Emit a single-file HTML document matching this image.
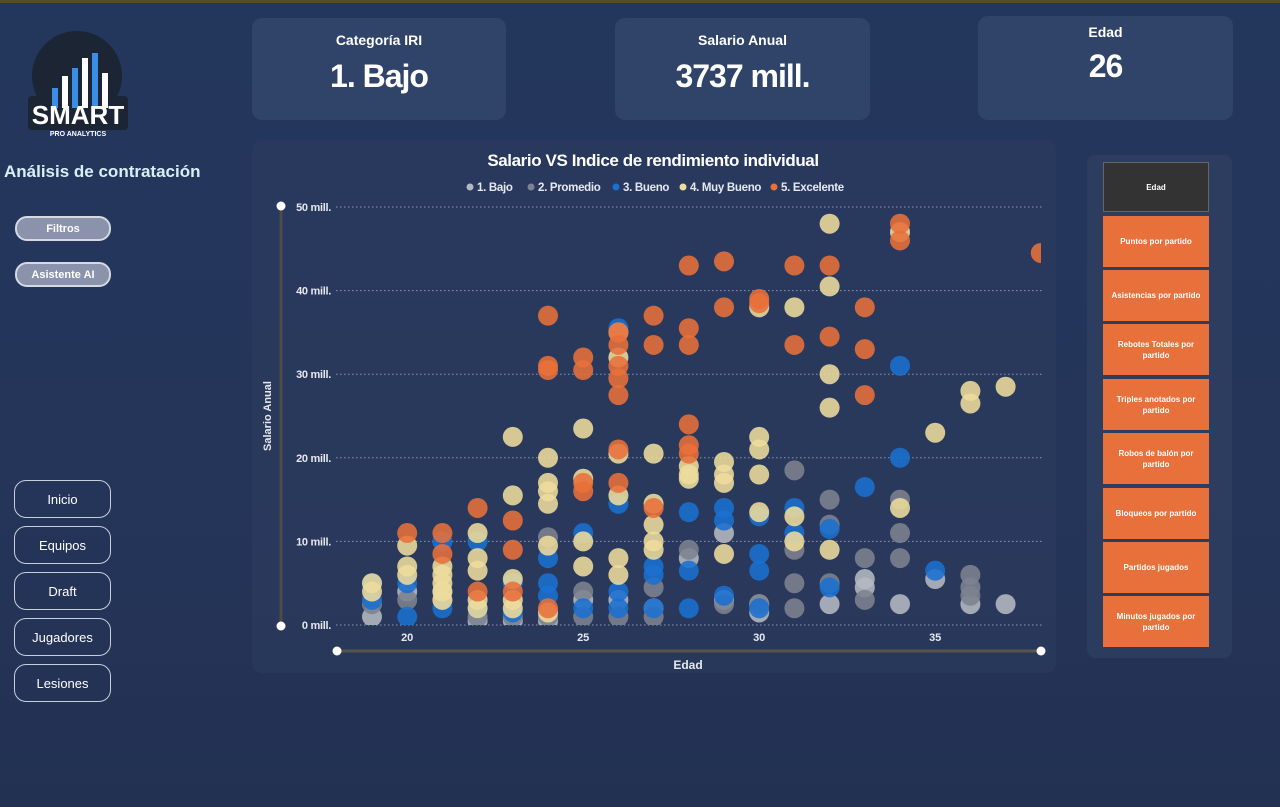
<!DOCTYPE html>
<html><head><meta charset="utf-8">
<style>
*{box-sizing:border-box;margin:0;padding:0}
body{width:1280px;height:807px;overflow:hidden;background:linear-gradient(180deg,#23365c 0%,#25355a 60%,#223152 100%);font-family:"Liberation Sans",sans-serif;color:#fff;position:relative}
.abs{position:absolute}
.card{position:absolute;background:rgba(60,78,115,0.55);border-radius:10px;text-align:center}
.card .t{font-size:14px;font-weight:bold;margin-top:14px}
.card .v{font-size:32px;font-weight:bold;margin-top:10px;letter-spacing:-1px}
.nav{position:absolute;left:14px;width:97px;height:38px;border:1px solid #c8cfdc;border-radius:12px;font-size:13px;display:flex;align-items:center;justify-content:center}
.pill{position:absolute;left:15px;width:96px;height:25px;background:#8a93ab;border:2px solid #d5d9e2;border-radius:12px;font-size:11px;font-weight:bold;display:flex;align-items:center;justify-content:center}
.rb{position:absolute;left:1103px;width:106px;height:51px;background:#e8703a;font-size:8px;font-weight:bold;display:flex;align-items:center;justify-content:center;text-align:center;padding:0 6px;line-height:11px}
</style></head><body>
<div class="abs" style="left:0;top:0;width:1280px;height:3px;background:#5a4a2a"></div>
<svg class="abs" style="left:24px;top:28px" width="108" height="110">
<circle cx="53" cy="48" r="45" fill="#1b2533"/>
<rect x="4" y="68" width="100" height="34" rx="4" fill="#1b2533"/>
<rect x="28" y="60" width="6" height="20" fill="#3a8ee8"/><rect x="38" y="48" width="6" height="32" fill="#fff"/><rect x="48" y="40" width="6" height="40" fill="#3a8ee8"/><rect x="58" y="30" width="6" height="50" fill="#fff"/><rect x="68" y="25" width="6" height="55" fill="#3a8ee8"/><rect x="78" y="45" width="6" height="35" fill="#fff"/>
<text x="54" y="96" font-size="26" font-weight="bold" fill="#fff" text-anchor="middle" font-family="Liberation Sans">SMART</text>
<text x="54" y="108" font-size="7" font-weight="bold" fill="#fff" text-anchor="middle">PRO ANALYTICS</text>
</svg>
<div class="abs" style="left:4px;top:162px;font-size:17px;font-weight:bold;color:#d8f0f4">Análisis de contratación</div>
<div class="pill" style="top:216px">Filtros</div>
<div class="pill" style="top:262px">Asistente AI</div>
<div class="nav" style="top:480px">Inicio</div>
<div class="nav" style="top:526px">Equipos</div>
<div class="nav" style="top:572px">Draft</div>
<div class="nav" style="top:618px">Jugadores</div>
<div class="nav" style="top:664px">Lesiones</div>

<div class="card" style="left:252px;top:18px;width:254px;height:102px"><div class="t">Categoría IRI</div><div class="v">1. Bajo</div></div>
<div class="card" style="left:615px;top:18px;width:255px;height:102px"><div class="t">Salario Anual</div><div class="v">3737 mill.</div></div>
<div class="card" style="left:978px;top:16px;width:255px;height:104px"><div class="t" style="margin-top:8px">Edad</div><div class="v" style="margin-top:8px">26</div></div>

<div class="abs" style="left:252px;top:140px;width:804px;height:533px;background:rgba(45,60,95,0.55);border-radius:10px"></div>
<svg class="abs" id="chart" style="left:0;top:0" width="1280" height="807"></svg>

<div class="abs" style="left:1087px;top:155px;width:145px;height:503px;background:rgba(50,66,100,0.6);border-radius:8px"></div>
<div class="rb" style="top:162px;height:50px;background:#333;border:1px solid #666">Edad</div>
<div class="rb" style="top:216px">Puntos por partido</div>
<div class="rb" style="top:270px">Asistencias por partido</div>
<div class="rb" style="top:324px">Rebotes Totales por partido</div>
<div class="rb" style="top:379px">Triples anotados por partido</div>
<div class="rb" style="top:433px">Robos de balón por partido</div>
<div class="rb" style="top:488px">Bloqueos por partido</div>
<div class="rb" style="top:542px">Partidos jugados</div>
<div class="rb" style="top:596px">Minutos jugados por partido</div>

<script>
const categories=["1. Bajo","2. Promedio","3. Bueno","4. Muy Bueno","5. Excelente"];
const colors=["#b4b8c2","#7d8290","#1a6fd0","#eedc9c","#e8703a"];
const yTicks=[0,10,20,30,40,50];
const xTicks=[20,25,30,35];
const bajo=[[19,1],[20,4],[21,4],[22,0.5],[23,0.5],[24,0.5],[25,3],[26,3],[27,2],[28,8],[29,11],[29,3],[30,1.5],[30,2.5],[32,2.5],[33,5.5],[33,4.5],[34,2.5],[35,5.5],[36,2.5],[37,2.5]];
const promedio=[[19,2.5],[20,3],[21,3],[22,1],[23,1],[24,10.5],[24,1],[25,4],[25,1],[26,1],[27,4.5],[27,1],[28,9],[29,2.5],[30,2.5],[31,18.5],[31,9],[31,5],[31,2],[32,15],[32,12],[32,5],[33,8],[33,3],[34,15],[34,11],[34,8],[36,6],[36,4.5],[36,3.5]];
const bueno=[[19,5],[19,3],[20,1],[20,5],[21,10],[21,2],[22,10],[22,2],[23,5],[23,1.5],[24,8],[24,5],[24,3.5],[25,11],[25,2],[26,35.5],[26,14.5],[26,4],[26,2],[27,7],[27,6],[27,2],[28,13.5],[28,6.5],[28,2],[29,14],[29,12.5],[29,3.5],[30,8.5],[30,6.5],[30,2],[30,13],[31,14],[31,11],[32,11.5],[32,4.5],[33,16.5],[34,31],[34,20],[35,6.5]];
const muyBueno=[[19,5],[19,4],[20,9.5],[20,7],[20,6],[21,7],[21,6],[21,5],[21,4],[21,3],[22,11],[22,8],[22,6.5],[22,3],[22,2],[23,22.5],[23,15.5],[23,5.5],[23,3],[23,2],[24,20],[24,17],[24,16],[24,14.5],[24,9.5],[24,1.5],[25,23.5],[25,17.5],[25,10],[25,7],[26,35],[26,32],[26,20.5],[26,15.5],[26,8],[26,6],[27,20.5],[27,14.5],[27,12],[27,10],[27,9],[28,19],[28,18],[28,17.5],[29,19.5],[29,18],[29,17],[29,8.5],[30,22.5],[30,21],[30,18],[30,13.5],[30,38],[31,38],[31,13],[31,10],[32,48],[32,40.5],[32,30],[32,26],[32,9],[34,47],[34,14],[35,23],[36,28],[36,26.5],[37,28.5]];
const excelente=[[20,11],[21,11],[21,8.5],[22,14],[22,4],[23,12.5],[23,9],[23,4],[24,37],[24,31],[24,30.5],[24,2],[25,32],[25,30.5],[25,17],[25,16],[26,35],[26,33.5],[26,31],[26,29.5],[26,27.5],[26,21],[26,17],[27,37],[27,33.5],[27,14],[28,43],[28,35.5],[28,33.5],[28,24],[28,21.5],[28,20.5],[29,43.5],[29,38],[30,39],[30,38.5],[31,43],[31,33.5],[32,43],[32,34.5],[33,38],[33,33],[33,27.5],[34,48],[34,46],[38,44.5]];
const series=[bajo,promedio,bueno,muyBueno,excelente];
const NS="http://www.w3.org/2000/svg";
const svg=document.getElementById('chart');
const X=v=>372+(v-19)*35.2, Y=v=>625-v*8.36;
function mk(t,a,txt){const e=document.createElementNS(NS,t);for(const k in a)e.setAttribute(k,a[k]);if(txt!==undefined)e.textContent=txt;svg.appendChild(e);return e;}
let t=mk('text',{x:653,y:166,'font-size':17,'font-weight':'bold',fill:'#fff','text-anchor':'middle','letter-spacing':'-0.4'},'Salario VS Indice de rendimiento individual');

let lx=466;
categories.forEach((c,i)=>{
 const d=mk('circle',{cx:lx+4,cy:187,r:3.5,fill:colors[i]});
 
 const tx=mk('text',{x:lx+11,y:191,'font-size':11.5,'font-weight':'bold',fill:'#e6e8ee','letter-spacing':'-0.3'},c);
 
 lx+=11+c.length*6.0+8;
});
yTicks.forEach(v=>{
 const l=mk('line',{x1:336,x2:1042,y1:Y(v),y2:Y(v),stroke:'#8a96b0','stroke-dasharray':'1.5 2.5','stroke-width':1});
 
 const tx=mk('text',{x:331,y:Y(v)+4,'font-size':11,'font-weight':'bold',fill:'#e6e8ee','text-anchor':'end','letter-spacing':'-0.3'},v+' mill.');
 
});
xTicks.forEach(v=>{
 const tx=mk('text',{x:X(v),y:641,'font-size':11,'font-weight':'bold',fill:'#e6e8ee','text-anchor':'middle'},v);
 
});
let ys=mk('line',{x1:281,x2:281,y1:206,y2:626,stroke:'#4e4c45','stroke-width':3});

let xs=mk('line',{x1:337,x2:1041,y1:651,y2:651,stroke:'#5a5446','stroke-width':3});

[[281,206],[281,626],[337,651],[1041,651]].forEach(p=>{const h=mk('circle',{cx:p[0],cy:p[1],r:4.5,fill:'#fff'});});
let yt=mk('text',{x:271,y:416,'font-size':11,'font-weight':'bold',fill:'#e6e8ee','text-anchor':'middle',transform:'rotate(-90 271 416)'},'Salario Anual');

let xt=mk('text',{x:688,y:669,'font-size':12,'font-weight':'bold',fill:'#e6e8ee','text-anchor':'middle'},'Edad');

const cp=mk('clipPath',{id:'cp'});const r=document.createElementNS(NS,'rect');r.setAttribute('x',336);r.setAttribute('y',200);r.setAttribute('width',705);r.setAttribute('height',425);cp.appendChild(r);
const g=document.createElementNS(NS,'g');g.setAttribute('clip-path','url(#cp)');
svg.appendChild(g);
series.forEach((s,i)=>s.forEach(p=>{
 const c=document.createElementNS(NS,'circle');
 c.setAttribute('cx',X(p[0]));c.setAttribute('cy',Y(p[1]));c.setAttribute('r',10);c.setAttribute('fill',colors[i]);c.setAttribute('fill-opacity',0.88);
 
 
 g.appendChild(c);
}));
</script>
</body></html>
